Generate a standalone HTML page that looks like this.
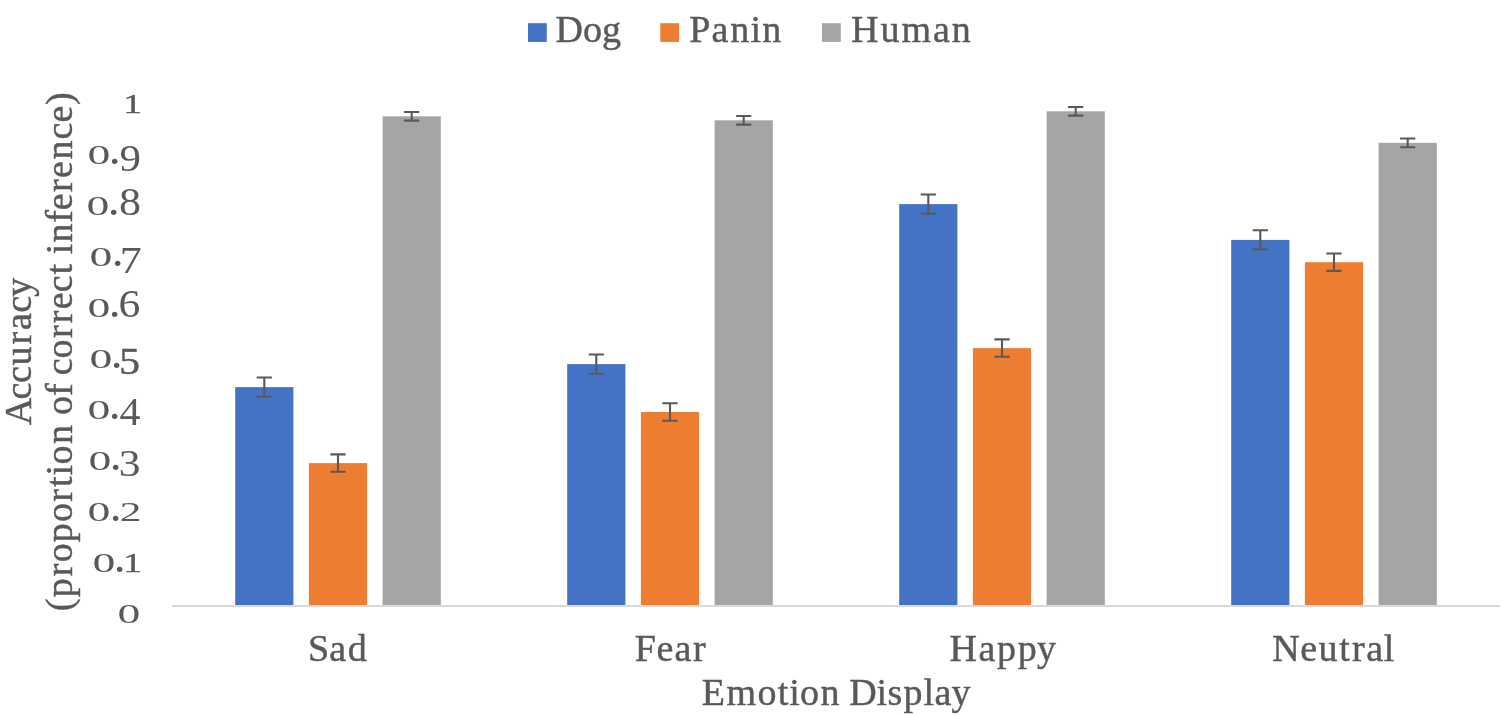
<!DOCTYPE html>
<html lang="en"><head><meta charset="utf-8"><title>Accuracy by Emotion Display</title>
<style>
html,body{margin:0;padding:0;background:#fff;}
body{width:1502px;height:716px;overflow:hidden;position:relative;}
svg{display:block;}
text{font-family:"Liberation Serif", serif;fill:#595959;}
.yl{position:absolute;left:0;width:140.3px;height:38px;text-align:right;white-space:nowrap;font-family:"Liberation Serif", serif;font-size:38px;line-height:38px;color:#595959;}
.yl span{display:inline-block;text-align:left;transform-origin:0 0;-webkit-text-stroke:0.3px #595959;}
text{stroke:#595959;stroke-width:0.45px;}
</style></head><body>
<svg width="1502" height="716" viewBox="0 0 1502 716">
<rect x="0" y="0" width="1502" height="716" fill="#ffffff"/>
<g>
<rect x="235.20" y="387.15" width="58.20" height="217.85" fill="#4472C4"/>
<rect x="308.90" y="463.10" width="58.20" height="141.90" fill="#ED7D31"/>
<rect x="382.60" y="116.30" width="58.20" height="488.70" fill="#A5A5A5"/>
<rect x="567.20" y="364.10" width="58.20" height="240.90" fill="#4472C4"/>
<rect x="640.90" y="412.00" width="58.20" height="193.00" fill="#ED7D31"/>
<rect x="714.60" y="120.30" width="58.20" height="484.70" fill="#A5A5A5"/>
<rect x="899.20" y="204.10" width="58.20" height="400.90" fill="#4472C4"/>
<rect x="972.90" y="348.10" width="58.20" height="256.90" fill="#ED7D31"/>
<rect x="1046.60" y="111.30" width="58.20" height="493.70" fill="#A5A5A5"/>
<rect x="1231.20" y="239.90" width="58.20" height="365.10" fill="#4472C4"/>
<rect x="1304.90" y="262.20" width="58.20" height="342.80" fill="#ED7D31"/>
<rect x="1378.60" y="142.85" width="58.20" height="462.15" fill="#A5A5A5"/>
</g>
<rect x="172.0" y="605.0" width="1328.0" height="2" fill="#D9D9D9"/>
<g stroke="#595959" stroke-width="2.1" fill="none">
<path d="M256.70 377.55H271.90M256.70 396.75H271.90M264.30 377.55V396.75"/>
<path d="M330.40 454.40H345.60M330.40 471.80H345.60M338.00 454.40V471.80"/>
<path d="M404.10 111.95H419.30M404.10 120.65H419.30M411.70 111.95V120.65"/>
<path d="M588.70 354.50H603.90M588.70 373.70H603.90M596.30 354.50V373.70"/>
<path d="M662.40 403.30H677.60M662.40 420.70H677.60M670.00 403.30V420.70"/>
<path d="M736.10 115.95H751.30M736.10 124.65H751.30M743.70 115.95V124.65"/>
<path d="M920.70 194.50H935.90M920.70 213.70H935.90M928.30 194.50V213.70"/>
<path d="M994.40 339.40H1009.60M994.40 356.80H1009.60M1002.00 339.40V356.80"/>
<path d="M1068.10 106.95H1083.30M1068.10 115.65H1083.30M1075.70 106.95V115.65"/>
<path d="M1252.70 230.30H1267.90M1252.70 249.50H1267.90M1260.30 230.30V249.50"/>
<path d="M1326.40 253.50H1341.60M1326.40 270.90H1341.60M1334.00 253.50V270.90"/>
<path d="M1400.10 138.50H1415.30M1400.10 147.20H1415.30M1407.70 138.50V147.20"/>
</g>
<rect x="528.0" y="23.2" width="18.8" height="18.7" fill="#4472C4"/>
<text x="555.46 583.02 602.00" y="41.9" font-size="38.0">Dog</text>
<rect x="660.3" y="23.2" width="18.8" height="18.7" fill="#ED7D31"/>
<text x="689.28 711.59 730.35 750.56 762.33" y="41.9" font-size="38.0">Panin</text>
<rect x="822.0" y="23.2" width="18.8" height="18.7" fill="#A5A5A5"/>
<text x="851.12 880.49 901.56 932.97 951.73" y="41.9" font-size="38.0">Human</text>
<text x="307.89 329.31 347.76" y="660.6" font-size="38.0">Sad</text>
<text x="634.78 656.51 674.38 693.04" y="660.6" font-size="38.0">Fear</text>
<text x="949.42 978.57 996.97 1017.65 1036.92" y="660.6" font-size="38.0">Happy</text>
<text x="1272.37 1300.29 1318.38 1339.28 1351.92 1366.37 1383.84" y="660.6" font-size="38.0">Neutral</text>
<text x="701.82 726.41 757.38 777.63 789.18 800.01 820.47 840.28 849.26 876.57 887.56 903.62 923.38 934.55 951.53" y="704.5" font-size="38.0">Emotion Display</text>
<text transform="translate(30.9 0) rotate(-90)" x="-425.19 -399.55 -383.11 -365.54 -344.53 -330.09 -312.74 -296.66" y="0" font-size="38.0">Accuracy</text>
<text transform="translate(72.0 0) rotate(-90)" x="-611.14 -597.18 -576.24 -562.23 -542.13 -522.03 -501.67 -486.94 -475.38 -464.56 -444.09 -424.28 -414.90 -396.09 -384.26 -375.36 -358.44 -338.09 -323.24 -309.17 -292.21 -274.57 -263.41 -254.28 -242.52 -222.76 -210.23 -191.95 -177.89 -159.51 -139.52 -122.55 -104.91" y="0" font-size="38.0">(proportion of correct inference)</text>
</svg>
<div class="yl" style="top:591.20px"><span style="width:22.10px;-webkit-text-stroke-width:0;transform:matrix(1.2046,0,0,0.7371,-0.393,8.641)">0</span></div>
<div class="yl" style="top:540.20px"><span style="width:22.10px;-webkit-text-stroke-width:0;transform:matrix(1.2046,0,0,0.7371,-0.393,8.641)">0</span><span style="width:9.70px;-webkit-text-stroke-width:0;transform:matrix(1.2472,0,0,1.1803,-1.324,-6.106)">.</span><span style="width:15.40px;-webkit-text-stroke-width:0.5px;transform:matrix(0.9867,0,0,0.7335,-1.645,8.529)">1</span></div>
<div class="yl" style="top:489.20px"><span style="width:22.10px;-webkit-text-stroke-width:0;transform:matrix(1.2046,0,0,0.7371,-0.393,8.641)">0</span><span style="width:9.70px;-webkit-text-stroke-width:0;transform:matrix(1.2472,0,0,1.1803,-1.324,-6.106)">.</span><span style="width:20.10px;-webkit-text-stroke-width:0;transform:matrix(1.1422,0,0,0.7353,-0.207,8.471)">2</span></div>
<div class="yl" style="top:438.20px"><span style="width:22.10px;-webkit-text-stroke-width:0;transform:matrix(1.2046,0,0,0.7371,-0.393,8.641)">0</span><span style="width:9.70px;-webkit-text-stroke-width:0;transform:matrix(1.2472,0,0,1.1803,-1.324,-6.106)">.</span><span style="width:19.90px;-webkit-text-stroke-width:0;transform:matrix(1.1467,0,0,1.0066,-1.185,5.915)">3</span></div>
<div class="yl" style="top:387.20px"><span style="width:22.10px;-webkit-text-stroke-width:0;transform:matrix(1.2046,0,0,0.7371,-0.393,8.641)">0</span><span style="width:9.70px;-webkit-text-stroke-width:0;transform:matrix(1.2472,0,0,1.1803,-1.324,-6.106)">.</span><span style="width:20.30px;-webkit-text-stroke-width:0;transform:matrix(1.1039,0,0,1.0395,-0.619,5.136)">4</span></div>
<div class="yl" style="top:336.20px"><span style="width:22.10px;-webkit-text-stroke-width:0;transform:matrix(1.2046,0,0,0.7371,-0.393,8.641)">0</span><span style="width:9.70px;-webkit-text-stroke-width:0;transform:matrix(1.2472,0,0,1.1803,-1.324,-6.106)">.</span><span style="width:19.00px;-webkit-text-stroke-width:0.5px;transform:matrix(1.0910,0,0,1.0019,-1.809,5.869)">5</span></div>
<div class="yl" style="top:285.20px"><span style="width:22.10px;-webkit-text-stroke-width:0;transform:matrix(1.2046,0,0,0.7371,-0.393,8.641)">0</span><span style="width:9.70px;-webkit-text-stroke-width:0;transform:matrix(1.2472,0,0,1.1803,-1.324,-6.106)">.</span><span style="width:20.40px;-webkit-text-stroke-width:0;transform:matrix(1.1518,0,0,1.0262,-1.381,-0.819)">6</span></div>
<div class="yl" style="top:234.20px"><span style="width:22.10px;-webkit-text-stroke-width:0;transform:matrix(1.2046,0,0,0.7371,-0.393,8.641)">0</span><span style="width:9.70px;-webkit-text-stroke-width:0;transform:matrix(1.2472,0,0,1.1803,-1.324,-6.106)">.</span><span style="width:18.10px;-webkit-text-stroke-width:0;transform:matrix(1.1558,0,0,1.0208,-2.195,5.934)">7</span></div>
<div class="yl" style="top:183.20px"><span style="width:22.10px;-webkit-text-stroke-width:0;transform:matrix(1.2046,0,0,0.7371,-0.393,8.641)">0</span><span style="width:9.70px;-webkit-text-stroke-width:0;transform:matrix(1.2472,0,0,1.1803,-1.324,-6.106)">.</span><span style="width:21.50px;-webkit-text-stroke-width:0;transform:matrix(1.1611,0,0,1.0334,-0.080,-0.953)">8</span></div>
<div class="yl" style="top:132.20px"><span style="width:22.10px;-webkit-text-stroke-width:0;transform:matrix(1.2046,0,0,0.7371,-0.393,8.641)">0</span><span style="width:9.70px;-webkit-text-stroke-width:0;transform:matrix(1.2472,0,0,1.1803,-1.324,-6.106)">.</span><span style="width:20.40px;-webkit-text-stroke-width:0;transform:matrix(1.1285,0,0,1.0027,-0.482,6.442)">9</span></div>
<div class="yl" style="top:81.20px"><span style="width:15.40px;-webkit-text-stroke-width:0.5px;transform:matrix(0.9867,0,0,0.7335,-1.645,8.529)">1</span></div>
</body></html>
